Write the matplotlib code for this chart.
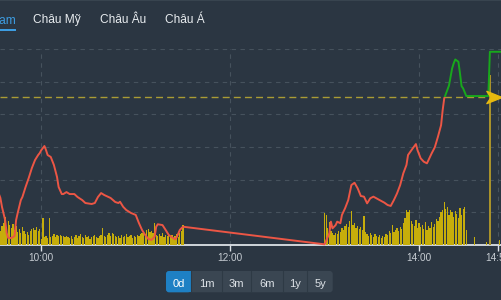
import matplotlib
matplotlib.use("Agg")
import matplotlib.pyplot as plt
import numpy as np
from matplotlib.patches import Rectangle, FancyBboxPatch
from matplotlib.path import Path
from matplotlib.transforms import blended_transform_factory

plt.rcParams['font.family'] = ['Liberation Sans', 'DejaVu Sans']

# ---- data ----
tabs = ['Việt Nam', 'Châu Mỹ', 'Châu Âu', 'Châu Á']
ranges = ['0d', '1m', '3m', '6m', '1y', '5y']

x_ticks = ['10:00', '12:00', '14:00', '14:50']
ref_price = 1249.05

price_times = [
    '09:32', '09:34', '09:35', '09:37', '09:38', '09:39', '09:41', '09:43', '09:44', '09:45',
    '09:47', '09:48', '09:50', '09:52', '09:54', '09:56', '09:58', '09:59', '10:00', '10:02',
    '10:03', '10:04', '10:06', '10:08', '10:10', '10:11', '10:13', '10:14', '10:16', '10:18',
    '10:21', '10:23', '10:26', '10:28', '10:32', '10:34', '10:36', '10:38', '10:40', '10:44',
    '10:47', '10:49', '10:50', '10:52', '10:54', '10:57', '11:00', '11:02', '11:04', '11:06',
    '11:08', '11:10', '11:12', '11:13', '11:14', '11:17', '11:19', '11:21', '11:23', '11:25',
    '11:26', '11:28', '11:30',
    '13:00', '13:03', '13:04', '13:05', '13:07', '13:08', '13:10', '13:11', '13:13', '13:15',
    '13:17', '13:19', '13:21', '13:23', '13:25', '13:27', '13:29', '13:31', '13:34', '13:38',
    '13:40', '13:42', '13:44', '13:46', '13:48', '13:50', '13:52', '13:53', '13:56', '13:58',
    '13:59', '14:01', '14:03', '14:05', '14:06', '14:08', '14:10', '14:12', '14:14', '14:15',
    '14:16', '14:19', '14:21', '14:22', '14:23', '14:25', '14:26', '14:27', '14:28', '14:30',
    '14:44', '14:45', '15:00']
price_vals = [
    1243.40, 1242.88, 1242.34, 1241.53, 1240.73, 1240.43, 1240.43, 1240.55, 1241.53, 1241.96,
    1242.75, 1242.94, 1243.55, 1244.10, 1244.71, 1245.20, 1245.51, 1245.63, 1245.81, 1246.06,
    1245.81, 1245.51, 1245.39, 1244.90, 1244.16, 1243.55, 1243.12, 1243.12, 1243.24, 1243.12,
    1243.12, 1242.94, 1242.75, 1242.57, 1242.51, 1242.57, 1242.94, 1243.18, 1243.06, 1242.88,
    1242.63, 1242.57, 1242.65, 1242.34, 1242.14, 1241.96, 1241.84, 1241.35, 1240.92, 1240.61,
    1240.37, 1240.31, 1240.51, 1241.12, 1241.27, 1241.22, 1240.92, 1240.61, 1240.47, 1240.35,
    1240.47, 1240.92, 1241.12,
    1240.04, 1240.72, 1241.43, 1241.02, 1241.22, 1241.43, 1241.33, 1241.84, 1242.25, 1242.75,
    1243.67, 1243.81, 1243.47, 1243.00, 1242.96, 1242.55, 1242.86, 1242.96, 1242.80, 1242.59,
    1242.45, 1242.39, 1242.75, 1243.16, 1243.67, 1244.39, 1244.90, 1245.51, 1245.92, 1246.18,
    1245.81, 1245.31, 1245.10, 1245.00, 1245.20, 1245.61, 1245.98, 1246.63, 1247.34, 1248.26,
    1248.98, 1249.76, 1250.81, 1251.12, 1251.36, 1251.22, 1250.51, 1249.73, 1249.59, 1249.12,
    1249.12, 1251.83, 1251.83]

# per-minute volume, morning from 09:34, afternoon from 13:00
am_start = '09:34'
am_vol = [14, 19, 22, 28, 18, 24, 20, 17, 21, 15, 19, 13, 16, 12, 18, 14, 11, 13, 10,
          14, 16, 17, 15, 18, 14, 16, 6, 27, 8, 9, 7, 27, 8,
          9, 11, 8, 10, 9, 10, 9, 9, 8, 9, 8, 7, 9, 6, 8, 10, 7, 9, 11, 8, 7, 10, 8, 9, 6, 8, 9, 10, 8,
          7, 9, 10, 17, 9, 8, 10, 12, 9, 12, 11, 9, 8,
          9, 7, 10, 8, 9, 11, 8, 9, 10, 7, 9, 8, 10, 9, 11,
          12, 14, 11, 15, 16, 13, 14, 12, 22, 10, 9, 11,
          9, 12, 8, 10, 9, 11, 8, 10, 7, 9, 11, 8, 12, 14, 20]
pm_start = '13:00'
pm_vol = [32, 30, 17, 23, 14, 12,
          10, 12, 11, 14, 13, 17, 15, 19, 21, 18, 24, 34, 20, 22,
          17, 19, 16, 18, 15, 29, 13,
          11, 9, 12, 10, 8, 11, 9, 8, 10, 7, 9, 8, 11, 10,
          14, 12, 20, 13, 15, 17, 14, 18, 16, 22,
          27, 35, 33, 35, 24,
          21, 19, 25, 17, 22, 18, 20, 16, 23, 15, 19, 17,
          23, 18, 21, 26, 24,
          28, 33, 35, 43, 36, 38, 30, 35, 33, 28, 34, 31, 27, 37, 30, 36, 38, 15]
late_times = ['14:35', '14:43', '14:51']
late_vol = [8, 3, 5]
atc_time = '14:45'
atc_vol = 170


def mins(s):
    h, m = map(int, s.split(':'))
    return (h - 9) * 60 + m


# ---- style ----
BG = '#2b3642'
GRID = '#46525d'
RED = '#ec5645'
GREEN = '#18a81c'
VOL = '#c6ad0b'
ATC = '#a9922a'
REF = '#aa9c34'
ARROW = '#e7b90f'
AXIS = '#dde2e7'
TXT = '#c6ccd2'
BLUE = '#3d9de2'

W, H = 501, 300
fig = plt.figure(figsize=(W / 100, H / 100), dpi=100, facecolor=BG)

top, base = 49, 245
rect = [0, (H - base) / H, 1, (base - top) / H]
xmin, xmax = 33.76, 352.06
ymin, ymax = 1240.0, 1252.0

# grid / axis layer
ax = fig.add_axes(rect)
ax.set_facecolor(BG)
ax.set_xlim(xmin, xmax)
ax.set_ylim(ymin, ymax)
ax.set_xticks([mins(s) for s in x_ticks])
ax.set_xticklabels(x_ticks)
ax.set_yticks(np.arange(1242, 1253, 2))
ax.grid(True, color=GRID, ls=(0, (4, 4)), lw=0.8)
for s in ['top', 'left', 'right']:
    ax.spines[s].set_visible(False)
ax.spines['bottom'].set_color(AXIS)
ax.spines['bottom'].set_linewidth(1.3)
ax.tick_params(axis='x', colors=AXIS, length=4, width=1, labelsize=7.2,
               labelcolor=TXT, pad=1.5)
ax.tick_params(axis='y', left=False, labelleft=False)
ax.set_zorder(0)

# volume layer
axv = fig.add_axes(rect)
axv.patch.set_visible(False)
axv.set_xlim(xmin, xmax)
axv.set_ylim(0, base - top)
axv.axis('off')
axv.set_zorder(1)
t0 = mins(am_start)
axv.bar(t0 + np.arange(len(am_vol)), am_vol, width=0.8, color=VOL, lw=0)
t1 = mins(pm_start)
axv.bar(t1 + np.arange(len(pm_vol)), pm_vol, width=0.8, color=VOL, lw=0)
axv.bar([mins(s) for s in late_times], late_vol, width=0.8, color=VOL, lw=0)
axv.bar([mins(atc_time)], [atc_vol], width=1.2, color=ATC, lw=0)

# price layer
ap = fig.add_axes(rect)
ap.patch.set_visible(False)
ap.set_xlim(xmin, xmax)
ap.set_ylim(ymin, ymax)
ap.axis('off')
ap.set_zorder(2)
pt = [mins(s) for s in price_times]
ap.axhline(ref_price, color=REF, ls=(0, (5, 3)), lw=1.0)
red_line, = ap.plot(pt, price_vals, color=RED, lw=1.4, solid_joinstyle='round')
green_line, = ap.plot(pt, price_vals, color=GREEN, lw=1.4, solid_joinstyle='round')
red_line.set_clip_path(Rectangle((0, 1000), 1000, ref_price - 1000, transform=ap.transData))
green_line.set_clip_path(Rectangle((0, ref_price), 1000, 1000, transform=ap.transData))

arrow = Path([(-1, -0.8), (1, 0), (-1, 0.8), (-0.45, 0), (-1, -0.8)],
             [Path.MOVETO, Path.LINETO, Path.LINETO, Path.LINETO, Path.CLOSEPOLY])
trans = blended_transform_factory(ap.transAxes, ap.transData)
ap.plot([0.987], [ref_price], marker=arrow, markersize=11, color=ARROW,
        transform=trans, clip_on=False)

# UI overlay (pixel coordinates)
ui = fig.add_axes([0, 0, 1, 1])
ui.set_xlim(0, W)
ui.set_ylim(H, 0)
ui.axis('off')
ui.set_zorder(3)
ui.add_patch(Rectangle((0, 0), W, 1.2, color='#38444f', lw=0))

ui.text(15.7, 22.7, tabs[0], ha='right', va='baseline', color=BLUE, fontsize=8.6)
ui.add_patch(Rectangle((0, 29), 16, 2, color=BLUE, lw=0))
for label, x in zip(tabs[1:], [33.5, 99.7, 164.7]):
    ui.text(x, 22.7, label, ha='left', va='baseline', color='#e9edf0', fontsize=8.6)

edges = [166, 191, 222.3, 251, 282.7, 307.3, 332.7]
ui.add_patch(FancyBboxPatch((edges[0], 271), edges[-1] - edges[0], 21.3,
                            boxstyle='round,pad=0,rounding_size=3',
                            fc='#3a4652', ec='none'))
ui.add_patch(FancyBboxPatch((edges[0], 271), edges[1] - edges[0], 21.3,
                            boxstyle='round,pad=0,rounding_size=3',
                            fc='#1e80c4', ec='none'))
ui.add_patch(Rectangle((edges[1] - 3, 271), 3, 21.3, color='#1e80c4', lw=0))
for e in edges[1:-1]:
    ui.plot([e, e], [271, 292.3], color='#2e3a45', lw=0.8)
for i, label in enumerate(ranges):
    cx = (edges[i] + edges[i + 1]) / 2
    ui.text(cx, 286.7, label, ha='center', va='baseline', fontsize=8,
            color='white' if i == 0 else '#dde2e7')

fig.savefig('out.png', dpi=100, facecolor=BG)
